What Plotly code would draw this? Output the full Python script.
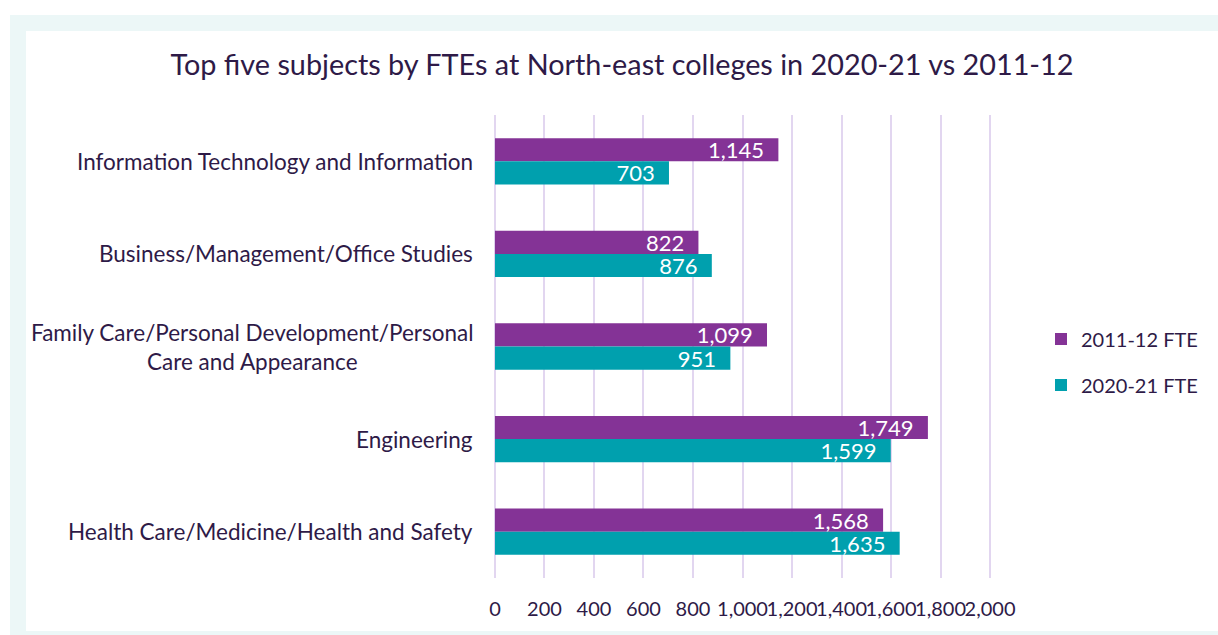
import plotly.graph_objects as go

categories = [
    "Information Technology and Information",
    "Business/Management/Office Studies",
    "Family Care/Personal Development/Personal<br>Care and Appearance",
    "Engineering",
    "Health Care/Medicine/Health and Safety",
]
fte_2011_12 = [1145, 822, 1099, 1749, 1568]
fte_2020_21 = [703, 876, 951, 1599, 1635]
series_names = ["2011-12 FTE", "2020-21 FTE"]
x_ticks = [0, 200, 400, 600, 800, 1000, 1200, 1400, 1600, 1800, 2000]

PURPLE = "#843396"
TEAL = "#00A0AE"
TEXT = "#2E1A47"
FONT = "Lato"

W, H = 1218, 635
L, R, T, B = 492, 993, 115, 578

fig = go.Figure()
for name, vals, col, grp in [(series_names[0], fte_2011_12, PURPLE, "a"),
                             (series_names[1], fte_2020_21, TEAL, "b")]:
    fig.add_trace(go.Bar(
        y=categories, x=vals, name=name, orientation="h",
        marker=dict(color=col, line=dict(width=0)),
        texttemplate="%{x:,}\u00a0\u00a0", textposition="inside", insidetextanchor="end",
        textfont=dict(color="white", size=22, family=FONT),
        constraintext="none", legendgroup=grp,
    ))

for c in categories:
    fig.add_annotation(
        x=0, xref="x", y=c, yref="y", text=c, showarrow=False,
        xanchor="right", xshift=-20, align="center",
        font=dict(size=22.5, color=TEXT, family=FONT),
    )

def px_x(p):
    return (p - L) / (R - L)

def px_y(p):
    return (B - p) / (B - T)

fig.add_shape(type="rect", xref="paper", yref="paper",
              x0=px_x(18), x1=px_x(1240), y0=px_y(23), y1=px_y(639),
              line=dict(color="#ECF7F7", width=16), fillcolor="rgba(0,0,0,0)",
              layer="below")

fig.update_layout(
    width=W, height=H,
    margin=dict(l=L, r=W - R, t=T, b=H - B, pad=0, autoexpand=False),
    paper_bgcolor="white", plot_bgcolor="white",
    barmode="group", bargap=0.5, bargroupgap=0,
    font=dict(family=FONT, color=TEXT),
    title=dict(text="Top five subjects by FTEs at North-east colleges in 2020-21 vs 2011-12",
               x=622 / W, xanchor="center", y=1 - 65 / H, yanchor="middle",
               xref="container", yref="container",
               font=dict(size=28.8, color=TEXT, family=FONT)),
    legend=dict(x=px_x(1041), xanchor="left", y=px_y(362), yanchor="middle",
                font=dict(size=20, color=TEXT, family=FONT),
                tracegroupgap=17, itemwidth=30, bgcolor="rgba(0,0,0,0)"),
    xaxis=dict(range=[-12, 2012], tickvals=x_ticks, tickformat=",", tickangle=0,
               showgrid=True, gridcolor="#E2D6F0", gridwidth=2,
               zeroline=False, showline=False,
               tickfont=dict(size=20, color=TEXT, family=FONT),
               ticklabelstandoff=17, fixedrange=True),
    yaxis=dict(autorange="reversed", showticklabels=False, showgrid=False,
               zeroline=False, showline=False),
)

fig.write_html("out.html", config={"displayModeBar": False},
               post_script="document.body.style.margin='0';document.body.style.padding='0';")
